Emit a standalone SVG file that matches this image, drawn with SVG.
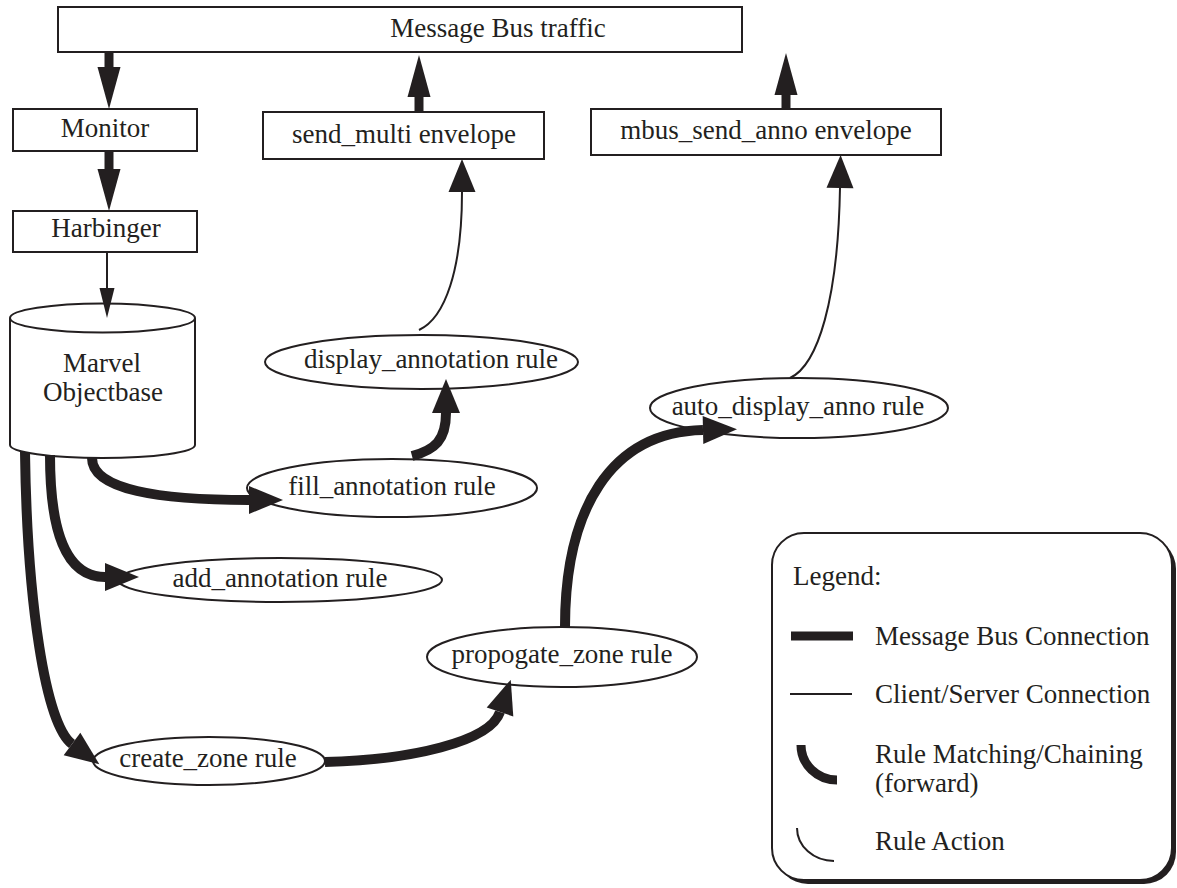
<svg xmlns="http://www.w3.org/2000/svg" width="1177" height="888" viewBox="0 0 1177 888">
<style>
text{font-family:"Liberation Serif","Times New Roman",serif;font-size:27px;fill:#231f20}
.m{text-anchor:middle}
.box{fill:#fff;stroke:#231f20;stroke-width:2}
.thick{fill:none;stroke:#231f20;stroke-width:10}
.bus{fill:none;stroke:#231f20;stroke-width:9}
.thin{fill:none;stroke:#231f20;stroke-width:2}
</style>
<defs>
<marker id="mb" markerUnits="userSpaceOnUse" markerWidth="42" markerHeight="23" refX="0" refY="11.5" orient="auto" overflow="visible"><path d="M0,0 L42,11.5 L0,23 z" fill="#231f20"/></marker>
<marker id="rm" markerUnits="userSpaceOnUse" markerWidth="34" markerHeight="28" refX="0" refY="14" orient="auto" overflow="visible"><path d="M0,0 L34,14 L0,28 z" fill="#231f20"/></marker>
<marker id="ra" markerUnits="userSpaceOnUse" markerWidth="33" markerHeight="27" refX="0" refY="13.5" orient="auto" overflow="visible"><path d="M0,0 L33,13.5 L0,27 z" fill="#231f20"/></marker>
<marker id="cs" markerUnits="userSpaceOnUse" markerWidth="30" markerHeight="15" refX="0" refY="7.5" orient="auto" overflow="visible"><path d="M0,0 L30,7.5 L0,15 z" fill="#231f20"/></marker>
</defs>
<rect width="1177" height="888" fill="#fff"/>

<g id="bus">
<rect class="box" x="58" y="7" width="684" height="45"/>
<text class="m" x="498" y="37">Message Bus traffic</text>
</g>
<g id="monitor">
<rect class="box" x="13" y="109" width="184" height="42"/>
<text class="m" x="105" y="137">Monitor</text>
</g>
<g id="harbinger">
<rect class="box" x="13" y="211" width="184" height="41"/>
<text class="m" x="106" y="237">Harbinger</text>
</g>
<g id="sendmulti">
<rect class="box" x="263" y="112" width="281" height="47"/>
<text class="m" x="404" y="143">send_multi envelope</text>
</g>
<g id="mbussend">
<rect class="box" x="591" y="109" width="350" height="46"/>
<text class="m" x="766" y="139">mbus_send_anno envelope</text>
</g>
<g id="objectbase">
<path class="box" d="M10,318 L10,445 A92.5,13 0 0 0 195,445 L195,318"/>
<ellipse class="box" cx="102.5" cy="318" rx="92.5" ry="14.5"/>
<text class="m" x="102" y="372">Marvel</text>
<text class="m" x="103" y="401">Objectbase</text>
</g>
<g id="display_annotation">
<ellipse class="box" cx="421.5" cy="362" rx="156.5" ry="27"/>
<text class="m" x="431" y="368">display_annotation rule</text>
</g>
<g id="fill_annotation">
<ellipse class="box" cx="392" cy="488" rx="145" ry="29"/>
<text class="m" x="392" y="495">fill_annotation rule</text>
</g>
<g id="add_annotation">
<ellipse class="box" cx="280" cy="580" rx="162" ry="22"/>
<text class="m" x="280" y="587">add_annotation rule</text>
</g>
<g id="create_zone">
<ellipse class="box" cx="209" cy="761" rx="116" ry="24"/>
<text class="m" x="208" y="767">create_zone rule</text>
</g>
<g id="propogate_zone">
<ellipse class="box" cx="562" cy="657" rx="135" ry="30"/>
<text class="m" x="562" y="663">propogate_zone rule</text>
</g>
<g id="auto_display">
<ellipse class="box" cx="799" cy="408" rx="149" ry="30"/>
<text class="m" x="798" y="415">auto_display_anno rule</text>
</g>

<g id="connectors">
<path class="bus" d="M109,52 L109,67" marker-end="url(#mb)"/>
<path class="bus" d="M109,151 L109,169" marker-end="url(#mb)"/>
<path class="bus" d="M419,112 L419,97" marker-end="url(#mb)"/>
<path class="bus" d="M786,109 L786,95" marker-end="url(#mb)"/>
<path class="thin" d="M107,252 L107,288" marker-end="url(#cs)"/>
<path class="thick" d="M92,458 C92,490 160,500 249,500" marker-end="url(#rm)"/>
<path class="thick" d="M50,455 C50,530 65,577 105,577" marker-end="url(#rm)"/>
<path class="thick" d="M25,452 C27,600 45,724 72,744" marker-end="url(#rm)"/>
<path class="thick" d="M325,762 C410,760 490,742 500,712" marker-end="url(#rm)"/>
<path class="thick" d="M565,627 C565,510 610,432 703,430" marker-end="url(#rm)"/>
<path class="thick" d="M412,456 C435,450 446,440 446,413" marker-end="url(#rm)"/>
<path class="thin" d="M419,330 C445,318 462,270 462,192" marker-end="url(#ra)"/>
<path class="thin" d="M790,378 C818,365 838,300 840,188" marker-end="url(#ra)"/>
</g>

<g id="legend">
<rect x="776" y="537" width="400" height="347" rx="32" fill="#231f20"/>
<rect x="772" y="533" width="400" height="347" rx="32" fill="#fff" stroke="#231f20" stroke-width="2"/>
<text x="793" y="585">Legend:</text>
<line x1="791" y1="636" x2="853" y2="636" stroke="#231f20" stroke-width="9"/>
<text x="875" y="645">Message Bus Connection</text>
<line x1="790" y1="694" x2="852" y2="694" stroke="#231f20" stroke-width="2"/>
<text x="875" y="703">Client/Server Connection</text>
<path d="M801,745 A36,35 0 0 0 837,780" fill="none" stroke="#231f20" stroke-width="9"/>
<text x="875" y="763">Rule Matching/Chaining</text>
<text x="875" y="792">(forward)</text>
<path d="M797,828 A37,33 0 0 0 834,861" fill="none" stroke="#231f20" stroke-width="2"/>
<text x="875" y="850">Rule Action</text>
</g>
</svg>
